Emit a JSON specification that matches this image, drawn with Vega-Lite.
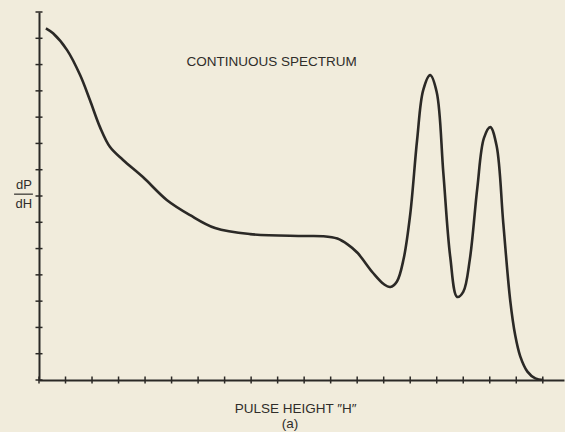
{
  "$schema": "https://vega.github.io/schema/vega-lite/v6.json",
  "width": 525,
  "height": 368,
  "autosize": {"type": "none"},
  "padding": {"left": 39, "top": 12, "right": 1, "bottom": 52},
  "background": "#f1ecdc",
  "config": {"view": {"stroke": null}, "font": "Liberation Sans"},
  "datasets": {
    "curve": [
      {"h": 0.26, "v": 13.38}, {"h": 0.53, "v": 13.19}, {"h": 1.06, "v": 12.55}, {"h": 1.55, "v": 11.6},
      {"h": 1.92, "v": 10.65}, {"h": 2.3, "v": 9.62}, {"h": 2.68, "v": 8.86}, {"h": 3.17, "v": 8.37},
      {"h": 3.92, "v": 7.72}, {"h": 4.83, "v": 6.84}, {"h": 5.7, "v": 6.27}, {"h": 6.64, "v": 5.78},
      {"h": 7.96, "v": 5.55}, {"h": 9.85, "v": 5.48}, {"h": 10.7, "v": 5.47}, {"h": 11.25, "v": 5.38},
      {"h": 11.65, "v": 5.15}, {"h": 12.0, "v": 4.85}, {"h": 12.6, "v": 4.07}, {"h": 13.0, "v": 3.65}, {"h": 13.25, "v": 3.54},
      {"h": 13.5, "v": 3.75}, {"h": 13.75, "v": 4.6}, {"h": 14.0, "v": 6.3},
      {"h": 14.26, "v": 9.13}, {"h": 14.49, "v": 11.03}, {"h": 14.75, "v": 11.6}, {"h": 15.0, "v": 10.95},
      {"h": 15.25, "v": 7.87}, {"h": 15.51, "v": 4.68}, {"h": 15.77, "v": 3.16}, {"h": 16.0, "v": 3.35},
      {"h": 16.25, "v": 4.6}, {"h": 16.53, "v": 7.3}, {"h": 16.78, "v": 9.2}, {"h": 17.02, "v": 9.62},
      {"h": 17.26, "v": 8.9}, {"h": 17.51, "v": 5.97}, {"h": 17.77, "v": 3.04}, {"h": 17.96, "v": 1.7},
      {"h": 18.15, "v": 0.9}, {"h": 18.42, "v": 0.32}, {"h": 18.72, "v": 0.06}, {"h": 19.02, "v": 0}
    ],
    "xticks": [
      {"h": 0}, {"h": 1}, {"h": 2}, {"h": 3}, {"h": 4}, {"h": 5}, {"h": 6}, {"h": 7}, {"h": 8}, {"h": 9},
      {"h": 10}, {"h": 11}, {"h": 12}, {"h": 13}, {"h": 14}, {"h": 15}, {"h": 16}, {"h": 17}, {"h": 18}, {"h": 19}
    ],
    "yticks": [
      {"v": 0}, {"v": 1}, {"v": 2}, {"v": 3}, {"v": 4}, {"v": 5}, {"v": 6}, {"v": 7},
      {"v": 8}, {"v": 9}, {"v": 10}, {"v": 11}, {"v": 12}, {"v": 13}, {"v": 14}
    ],
    "labels": [
      {"h": 8.77, "v": 12.09, "t": "CONTINUOUS SPECTRUM"},
      {"h": 9.68, "v": -1.1, "t": "PULSE HEIGHT \u2033H\u2033"},
      {"h": 9.47, "v": -1.68, "t": "(a)"}
    ],
    "ylabels": [
      {"h": -0.57, "v": 7.41, "t": "dP"},
      {"h": -0.57, "v": 6.71, "t": "dH"}
    ],
    "frac": [{"h": -0.94, "h2": -0.23, "v": 7.07}]
  },
  "layer": [
    {
      "data": {"name": "curve"},
      "mark": {"type": "line", "interpolate": "catmull-rom", "color": "#2b2926", "strokeWidth": 2.6, "clip": false},
      "encoding": {
        "x": {"field": "h", "type": "quantitative", "scale": {"domain": [0, 19.8], "nice": false, "zero": false},
              "axis": {"ticks": false, "labels": false, "grid": false, "title": null, "domainColor": "#2b2926", "domainWidth": 2}},
        "y": {"field": "v", "type": "quantitative", "scale": {"domain": [0, 14], "nice": false, "zero": false},
              "axis": {"ticks": false, "labels": false, "grid": false, "title": null, "domainColor": "#2b2926", "domainWidth": 2}}
      }
    },
    {
      "data": {"name": "xticks"},
      "mark": {"type": "tick", "orient": "vertical", "size": 7, "thickness": 1.5, "color": "#2b2926", "opacity": 1, "clip": false},
      "encoding": {
        "x": {"field": "h", "type": "quantitative"},
        "y": {"datum": 0, "type": "quantitative"}
      }
    },
    {
      "data": {"name": "yticks"},
      "mark": {"type": "tick", "orient": "horizontal", "size": 7, "thickness": 1.5, "color": "#2b2926", "opacity": 1, "clip": false},
      "encoding": {
        "x": {"datum": 0, "type": "quantitative"},
        "y": {"field": "v", "type": "quantitative"}
      }
    },
    {
      "data": {"name": "labels"},
      "mark": {"type": "text", "fontSize": 13.5, "color": "#2f2d2a", "align": "center", "baseline": "middle", "clip": false},
      "encoding": {
        "x": {"field": "h", "type": "quantitative"},
        "y": {"field": "v", "type": "quantitative"},
        "text": {"field": "t", "type": "nominal"}
      }
    },
    {
      "data": {"name": "ylabels"},
      "mark": {"type": "text", "fontSize": 13, "color": "#2f2d2a", "align": "center", "baseline": "middle", "clip": false},
      "encoding": {
        "x": {"field": "h", "type": "quantitative"},
        "y": {"field": "v", "type": "quantitative"},
        "text": {"field": "t", "type": "nominal"}
      }
    },
    {
      "data": {"name": "frac"},
      "mark": {"type": "rule", "color": "#2f2d2a", "strokeWidth": 1.2, "clip": false},
      "encoding": {
        "x": {"field": "h", "type": "quantitative"},
        "x2": {"field": "h2"},
        "y": {"field": "v", "type": "quantitative"}
      }
    }
  ]
}
